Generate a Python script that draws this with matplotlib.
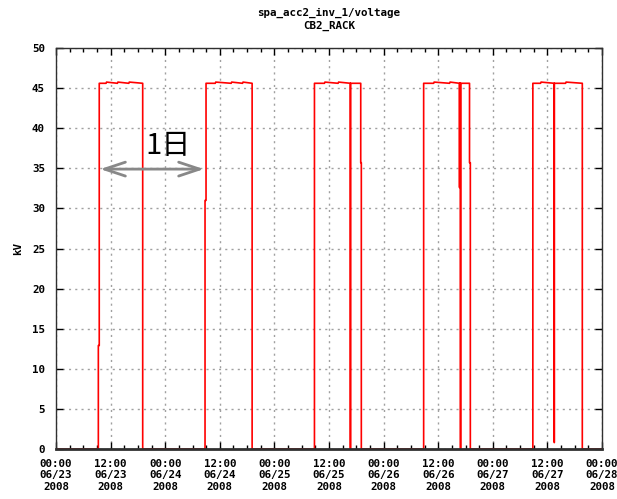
import matplotlib
matplotlib.use("Agg")
import matplotlib.pyplot as plt
import matplotlib.dates as mdates
import pandas as pd

# hours since 2008-06-23 00:00, voltage in kV
hours = [0.0, 9.30, 9.30, 9.50, 9.50, 11.0, 11.1, 13.5, 13.6, 16.0, 16.1, 19.05, 19.05,
         32.75, 32.75, 32.97, 32.97, 35.0, 35.1, 38.5, 38.6, 41.0, 41.1, 43.10, 43.10,
         56.80, 56.80, 59.0, 59.1, 62.0, 62.1, 64.70, 64.70, 64.72, 64.72, 66.97, 66.97, 67.10, 67.10,
         80.80, 80.80, 83.0, 83.1, 86.5, 86.6, 88.68, 88.68, 88.70, 88.70, 88.90, 88.90, 88.92, 88.92,
         90.88, 90.88, 91.06, 91.06,
         104.80, 104.80, 106.5, 106.6, 109.50, 109.50, 109.52, 109.52, 112.0, 112.1, 115.67, 115.67,
         120.0]
kv = [0.0, 0.0, 12.9, 12.9, 45.6, 45.6, 45.75, 45.6, 45.75, 45.6, 45.75, 45.6, 0.0,
      0.0, 31.0, 31.0, 45.6, 45.6, 45.75, 45.6, 45.75, 45.6, 45.75, 45.6, 0.0,
      0.0, 45.6, 45.6, 45.75, 45.6, 45.75, 45.6, 0.0, 0.0, 45.6, 45.6, 35.7, 35.7, 0.0,
      0.0, 45.6, 45.6, 45.75, 45.6, 45.75, 45.6, 32.6, 32.6, 45.6, 45.6, 0.0, 0.0, 45.6,
      45.6, 35.7, 35.7, 0.0,
      0.0, 45.6, 45.6, 45.75, 45.6, 0.8, 0.8, 45.6, 45.6, 45.75, 45.6, 0.0,
      0.0]

start = pd.Timestamp("2008-06-23 00:00")
end = pd.Timestamp("2008-06-28 00:00")
times = start + pd.to_timedelta(hours, unit="h")

title_str = "spa_acc2_inv_1/voltage\nCB2_RACK"
ylabel_str = "kV"
note_str = "1日"
arrow_x = (9.7, 32.5)   # hours
arrow_y = 34.9

mono = {"family": "DejaVu Sans Mono", "weight": "bold", "size": 7.8}

fig = plt.figure(figsize=(6.17, 4.99), dpi=100)
ax = fig.add_axes([0.0908, 0.1002, 0.8849, 0.8036])

ax.plot(times, kv, color="#ff0000", lw=1.2, zorder=2)

ax.set_xlim(start, end)
ax.set_ylim(0, 50)
ax.set_yticks(range(0, 51, 5))
ax.xaxis.set_major_locator(mdates.HourLocator(byhour=[0, 12]))
ax.xaxis.set_minor_locator(mdates.HourLocator(byhour=range(0, 24, 3)))
ax.xaxis.set_major_formatter(mdates.DateFormatter("%H:%M\n%m/%d\n%Y"))

ax.grid(True, which="major", color="#a0a0a0", lw=1.0, linestyle=(0, (1.5, 3)))
ax.tick_params(which="both", direction="in", top=True, right=True, color="black")
ax.tick_params(which="major", length=5, width=1, pad=7)
ax.tick_params(axis="y", which="major", pad=8)
ax.tick_params(which="minor", length=3, width=1)
for lab in ax.get_xticklabels() + ax.get_yticklabels():
    lab.set_fontfamily(mono["family"])
    lab.set_fontweight("bold")
    lab.set_fontsize(mono["size"])
for sp in ax.spines.values():
    sp.set_color("#303030")
    sp.set_linewidth(1)
    sp.set_zorder(5)
ax.spines["bottom"].set_linewidth(2)

ax.set_title(title_str, fontdict=mono, pad=14, linespacing=1.35)
ax.set_ylabel(ylabel_str, fontdict=mono, labelpad=6)

# 1 day annotation
x0 = start + pd.Timedelta(hours=arrow_x[0])
x1 = start + pd.Timedelta(hours=arrow_x[1])
ax.annotate("", xy=(x0, arrow_y), xytext=(x1, arrow_y),
            arrowprops=dict(arrowstyle="<->,head_length=1.5,head_width=0.5",
                            color="#888888", lw=2, shrinkA=0, shrinkB=0))
ax.text(start + pd.Timedelta(hours=24.6), 37.8, note_str, ha="center", va="center",
        fontsize=21, family=["Noto Sans CJK JP", "DejaVu Sans"], color="black")

fig.savefig("out.png", dpi=100)
